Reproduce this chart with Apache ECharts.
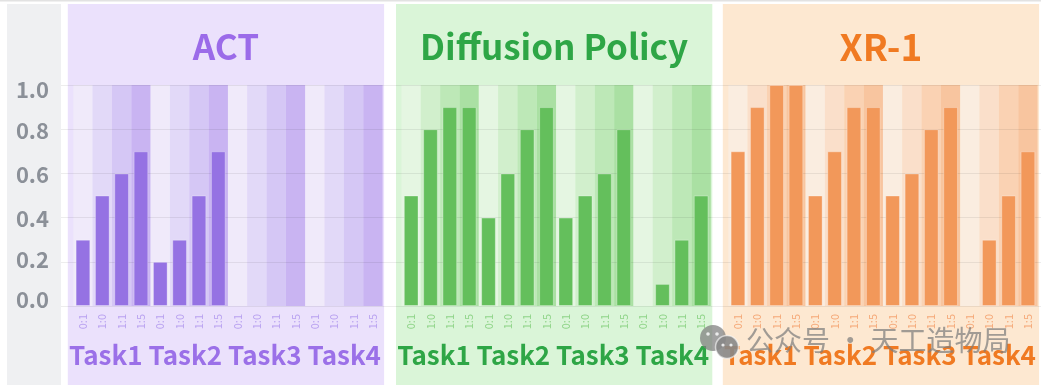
<!DOCTYPE html>
<html><head><meta charset="utf-8">
<script src="https://cdn.jsdelivr.net/npm/echarts@6/dist/echarts.min.js"></script>
<style>html,body{margin:0;padding:0;background:#fff}#c{width:1041px;height:385px}</style>
</head><body><div id="c"></div>
<script>
// ---- data ----
const tasks = ['Task1', 'Task2', 'Task3', 'Task4'];
const ratios = ['0:1', '1:0', '1:1', '1:5'];
const methods = ['ACT', 'Diffusion Policy', 'XR-1'];
const actValues = [0.3, 0.5, 0.6, 0.7, 0.2, 0.3, 0.5, 0.7, 0, 0, 0, 0, 0, 0, 0, 0];
const dpValues = [0.5, 0.8, 0.9, 0.9, 0.4, 0.6, 0.8, 0.9, 0.4, 0.5, 0.6, 0.8, 0, 0.1, 0.3, 0.5];
const xrValues = [0.7, 0.9, 1.0, 1.0, 0.5, 0.7, 0.9, 0.9, 0.5, 0.6, 0.8, 0.9, 0, 0.3, 0.5, 0.7];
const yMin = 0, yMax = 1.0, yStep = 0.2;
const watermark = '公众号 · 天工造物局';

// ---- styles ----
const FONT = '"Noto Sans CJK SC", "Noto Sans", sans-serif';
const themes = [
  {panel: '#ebe1fc', bar: '#9572e3', stripes: ['#f0eafa', '#e2d9f8', '#d5c7f5', '#c9b4f2'], title: '#9b6be9', titleSize: 35, task: '#9b70e8', tick: '#b9a2f0'},
  {panel: '#daf5d8', bar: '#64bf5c', stripes: ['#e5f6e2', '#d1efcc', '#bde8b7', '#aae0a3'], title: '#2ea646', titleSize: 35, task: '#2ea646', tick: '#8fd488'},
  {panel: '#fde8d1', bar: '#f2985a', stripes: ['#faede0', '#fadfca', '#fad2b3', '#f8c59f'], title: '#f07a22', titleSize: 37, task: '#f07a22', tick: '#f5a877'}
];
const seriesValues = [actValues, dpValues, xrValues];
const gridLefts = [73.3, 401.5, 728.3];
const gridW = 309.3, gridTop = 85, gridBottom = 79;
const yLabelShift = {'0.0': -6, '0.2': -2, '0.4': 1, '0.6': 1, '0.8': 1, '1.0': 5};

const cats = [];
tasks.forEach(t => ratios.forEach(r => cats.push(t + '|' + r)));

const grids = [], xAxes = [], yAxes = [], series = [], graphics = [];

graphics.push({type: 'rect', z: 0, shape: {x: 0, y: 0, width: 1041, height: 1.5}, style: {fill: '#e2e2e2'}});
graphics.push({type: 'rect', z: 0, shape: {x: 7, y: 4, width: 54, height: 381}, style: {fill: '#eff0f2'}});

methods.forEach((m, i) => {
  const th = themes[i];
  const left = gridLefts[i];
  grids.push({left: left, top: gridTop, width: gridW, bottom: gridBottom});
  graphics.push({type: 'rect', z: 0, shape: {x: left - 5.5, y: 4, width: gridW + 7, height: 381}, style: {fill: th.panel}});
  const cx = left + gridW / 2 - 2;
  graphics.push({type: 'text', z: 5, x: cx, y: 47, style: {text: m, fill: th.title, font: 'bold ' + th.titleSize + 'px ' + FONT, textAlign: 'center', textVerticalAlign: 'middle'}});
  graphics.push({type: 'text', z: 5, x: cx - 1, y: 355, style: {text: tasks.join(' '), fill: th.task, font: 'bold 26px ' + FONT, textAlign: 'center', textVerticalAlign: 'middle'}});
});

methods.forEach((m, i) => {
  xAxes.push({
    type: 'category', gridIndex: i, data: cats, z: 3,
    axisLine: {show: false}, axisTick: {show: false}, splitLine: {show: false},
    axisLabel: {interval: 0, rotate: 90, fontSize: 11, color: themes[i].tick, margin: 8, fontFamily: FONT,
      formatter: v => v.split('|')[1]}
  });
  yAxes.push({type: 'value', gridIndex: i, min: yMin, max: yMax, interval: yStep, show: false});
});
methods.forEach((m, i) => {
  xAxes.push({type: 'category', gridIndex: i, data: cats, show: false});
});

const richY = {};
const yKeys = Object.keys(yLabelShift);
yKeys.forEach((k, idx) => {
  const s = yLabelShift[k];
  richY['l' + idx] = {fontSize: 22, fontWeight: 'bold', color: '#8b9098', fontFamily: FONT,
    padding: s >= 0 ? [2 * s, 0, 0, 0] : [0, 0, -2 * s, 0]};
});

grids.push({left: 61, right: 0, top: gridTop, bottom: gridBottom});
xAxes.push({type: 'value', gridIndex: 3, show: false, min: 0, max: 1});
yAxes.push({
  type: 'value', gridIndex: 3, min: yMin, max: yMax, interval: yStep, z: 2,
  axisLine: {show: false}, axisTick: {show: false},
  splitLine: {show: true, lineStyle: {color: 'rgba(0,0,0,0.07)', width: 1}},
  axisLabel: {fontSize: 22, fontWeight: 'bold', color: '#8b9098', margin: 12, fontFamily: FONT,
    rich: richY,
    formatter: v => { const t = v.toFixed(1); return '{l' + yKeys.indexOf(t) + '|' + t + '}'; }}
});

methods.forEach((m, i) => {
  const th = themes[i];
  series.push({
    type: 'bar', name: m + ' band', xAxisIndex: 3 + i, yAxisIndex: i, z: 1, silent: true,
    barWidth: '100%',
    data: cats.map((c, j) => ({value: yMax, itemStyle: {color: th.stripes[j % 4]}}))
  });
  series.push({
    type: 'bar', name: m, xAxisIndex: i, yAxisIndex: i, z: 3,
    barWidth: '76%',
    itemStyle: {color: th.bar, borderColor: 'rgba(255,255,255,0.3)', borderWidth: 1},
    data: seriesValues[i].map(v => v > 0 ? v : {value: v, itemStyle: {borderWidth: 0, opacity: 0}})
  });
});

// watermark
const wmFill = 'rgba(125,125,125,0.72)';
graphics.push({type: 'circle', z: 10, shape: {cx: 713, cy: 338, r: 13}, style: {fill: wmFill}});
graphics.push({type: 'circle', z: 11, shape: {cx: 727, cy: 347, r: 11.5}, style: {fill: 'rgba(135,135,135,0.9)', stroke: 'rgba(255,255,255,0.6)', lineWidth: 1.5}});
graphics.push({type: 'circle', z: 12, shape: {cx: 708, cy: 334, r: 1.8}, style: {fill: 'rgba(255,255,255,0.8)'}});
graphics.push({type: 'circle', z: 12, shape: {cx: 717, cy: 334, r: 1.8}, style: {fill: 'rgba(255,255,255,0.8)'}});
graphics.push({type: 'circle', z: 12, shape: {cx: 723, cy: 345, r: 1.6}, style: {fill: 'rgba(255,255,255,0.8)'}});
graphics.push({type: 'circle', z: 12, shape: {cx: 731, cy: 345, r: 1.6}, style: {fill: 'rgba(255,255,255,0.8)'}});
graphics.push({type: 'text', z: 10, x: 746, y: 340, style: {text: watermark, fill: wmFill, font: '28px ' + FONT, textAlign: 'left', textVerticalAlign: 'middle'}});

const chart = echarts.init(document.getElementById('c'), null, {renderer: 'canvas'});
chart.setOption({
  animation: false,
  backgroundColor: '#ffffff',
  grid: grids, xAxis: xAxes, yAxis: yAxes, series: series,
  graphic: {elements: graphics}
});
</script></body></html>
